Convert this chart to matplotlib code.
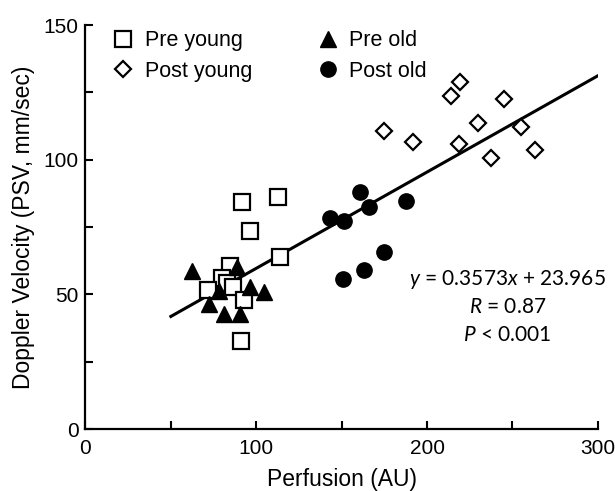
import numpy as np
import matplotlib
matplotlib.use('Agg')
import matplotlib.pyplot as plt
from matplotlib.ticker import MultipleLocator

plt.rcParams['font.family'] = ['Liberation Sans', 'DejaVu Sans']
plt.rcParams['mathtext.fontset'] = 'custom'
plt.rcParams['mathtext.rm'] = 'Lato'
plt.rcParams['mathtext.it'] = 'Lato:italic'

########## data
pre_young_x = [91.9, 112.8, 96.6, 114.2, 84.9, 80.0, 82.6, 71.5, 86.4, 92.7, 91.3]
pre_young_y = [84.2, 86.3, 73.6, 63.8, 60.5, 56.0, 54.3, 51.6, 52.8, 47.9, 32.7]

post_young_x = [219.2, 214.2, 245.3, 229.7, 255.1, 175.1, 191.7, 218.6, 237.5, 263.3]
post_young_y = [128.9, 123.8, 122.4, 113.7, 112.3, 110.7, 106.6, 105.7, 100.7, 103.6]

pre_old_x = [62.1, 88.8, 72.2, 78.2, 81.1, 90.3, 96.2, 104.4]
pre_old_y = [58.7, 60.3, 46.4, 51.4, 42.7, 42.7, 52.6, 50.9]

post_old_x = [160.9, 187.8, 166.0, 143.0, 151.3, 175.1, 163.0, 150.8]
post_old_y = [87.9, 84.7, 82.5, 78.5, 77.2, 65.8, 59.0, 55.7]

slope = 0.3573
intercept = 23.965
fit_x = np.array([50, 300])

########## figure
fig = plt.figure(figsize=(6.15, 4.91), dpi=100)
ax = fig.add_axes([0.139, 0.126, 0.833, 0.823])

ax.plot(fit_x, slope * fit_x + intercept, color='black', lw=2.2, zorder=1)

ax.plot(pre_young_x, pre_young_y, 's', ms=11, mfc='white', mec='black', mew=1.6,
        ls='none', label='Pre young', zorder=3)
ax.plot(post_young_x, post_young_y, 'D', ms=8, mfc='white', mec='black', mew=1.6,
        ls='none', label='Post young', zorder=3)
ax.plot(pre_old_x, pre_old_y, '^', ms=11, color='black',
        ls='none', label='Pre old', zorder=4)
ax.plot(post_old_x, post_old_y, 'o', ms=11, color='black',
        ls='none', label='Post old', zorder=4)

leg = ax.legend(ncol=2, loc='upper left', bbox_to_anchor=(0.015, 1.035), frameon=False,
                fontsize=15.5, handletextpad=0.5, columnspacing=3.0, labelspacing=0.45,
                handlelength=1.0)

ax.text(247, 55.7, '$y$ = 0.3573$x$ + 23.965', ha='center', va='center',
        fontsize=15, family='Lato')
ax.text(247, 45.3, '$R$ = 0.87', ha='center', va='center', fontsize=15, family='Lato')
ax.text(247, 34.9, '$P$ < 0.001', ha='center', va='center', fontsize=15, family='Lato')

ax.set_xlim(0, 300)
ax.set_ylim(0, 150)
ax.xaxis.set_major_locator(MultipleLocator(100))
ax.xaxis.set_minor_locator(MultipleLocator(50))
ax.yaxis.set_major_locator(MultipleLocator(50))
ax.yaxis.set_minor_locator(MultipleLocator(25))
ax.tick_params(which='both', direction='in', width=1.5, labelsize=15)
ax.tick_params(axis='x', pad=7)
ax.tick_params(axis='y', pad=5)
ax.tick_params(which='major', length=6)
ax.tick_params(which='minor', length=6)

for s in ['top', 'right']:
    ax.spines[s].set_visible(False)
for s in ['left', 'bottom']:
    ax.spines[s].set_linewidth(1.6)

ax.set_xlabel('Perfusion (AU)', fontsize=16.5, labelpad=7)
ax.set_ylabel('Doppler Velocity (PSV, mm/sec)', fontsize=16.5, labelpad=6)

plt.savefig('out.png', dpi=100)
